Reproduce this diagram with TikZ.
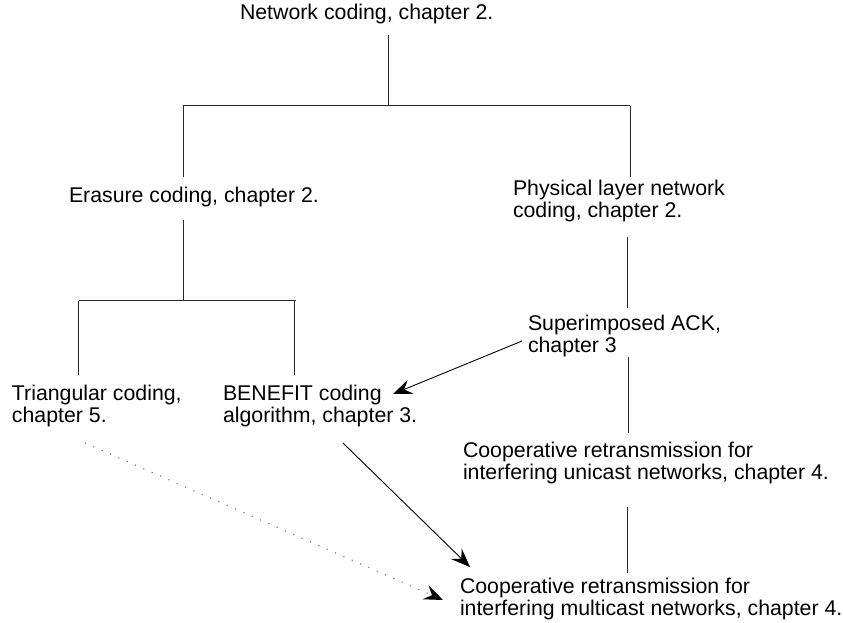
\documentclass[tikz,border=0pt]{standalone}
\usepackage{fontspec}
\setmainfont{Liberation Sans}
\usetikzlibrary{arrows.meta}
\begin{document}
\begin{tikzpicture}[x=1pt,y=-1pt,
  label/.style={anchor=base west,inner sep=0pt,outer sep=0pt,
    font=\fontsize{21.3}{22.5}\selectfont},
  tree/.style={line width=1pt,black!85},
  link/.style={line width=0.9pt,black,-{Stealth[length=19pt,width=15pt,inset=7pt]}},
  hint/.style={line width=1.1pt,black!55,dash pattern=on 1.1pt off 8pt,
    -{Stealth[length=19pt,width=15pt,inset=7pt,black]}}]
\useasboundingbox (0,0) rectangle (843,622);

% topics
\node[label] (nc)  at (240,19)  {Network coding, chapter 2.};
\node[label] (era) at (69,202)  {Erasure coding, chapter 2.};
\node[label] (phy) at (513,195) {\begin{tabular}[t]{@{}l@{}}Physical layer network\\coding, chapter 2.\end{tabular}};
\node[label] (tri) at (12,400)  {\begin{tabular}[t]{@{}l@{}}Triangular coding,\\chapter 5.\end{tabular}};
\node[label] (ben) at (223,400) {\begin{tabular}[t]{@{}l@{}}BENEFIT coding\\algorithm, chapter 3.\end{tabular}};
\node[label] (sup) at (528,330) {\begin{tabular}[t]{@{}l@{}}Superimposed ACK,\\chapter 3\end{tabular}};
\node[label] (uni) at (463,457) {\begin{tabular}[t]{@{}l@{}}Cooperative retransmission for\\interfering unicast networks, chapter 4.\end{tabular}};
\node[label] (mul) at (460,593) {\begin{tabular}[t]{@{}l@{}}Cooperative retransmission for\\interfering multicast networks, chapter 4.\end{tabular}};

% tree joints
\coordinate (nc-s)   at (388,35);
\coordinate (j1)     at (388,105.5);
\coordinate (j1-l)   at (183,105.5);
\coordinate (j1-r)   at (630,105.5);
\coordinate (era-n)  at (183,177);
\coordinate (phy-n)  at (630,177);
\coordinate (era-s)  at (183,220);
\coordinate (j2)     at (183,300.5);
\coordinate (j2-l)   at (78.5,300.5);
\coordinate (j2-r)   at (296,300.5);
\coordinate (tri-n)  at (78.5,375);
\coordinate (ben-n)  at (294,375);
\coordinate (phy-s)  at (627.5,237);
\coordinate (sup-n)  at (627.5,308);
\coordinate (sup-s)  at (628,357);
\coordinate (uni-n)  at (628,433);
\coordinate (uni-s)  at (627,507);
\coordinate (mul-n)  at (627,573);

% tree
\draw[tree] (nc-s) -- (j1);
\draw[tree] (j1-l) -- (j1-r);
\draw[tree] (j1-l) -- (era-n);
\draw[tree] (j1-r) -- (phy-n);
\draw[tree] (era-s) -- (j2);
\draw[tree] (j2-l) -- (j2-r);
\draw[tree] (j2-l) -- (tri-n);
\draw[tree] (ben-n |- j2) -- (ben-n);
\draw[tree] (phy-s) -- (sup-n);
\draw[tree] (sup-s) -- (uni-n);
\draw[tree] (uni-s) -- (mul-n);

% cross links
\coordinate (sup-w) at (522,341);
\coordinate (ben-e) at (393,394);
\coordinate (ben-s) at (343,443);
\coordinate (mul-nw) at (470,567);
\coordinate (tri-s) at (85,443);
\coordinate (mul-w) at (443,600);
\draw[link] (sup-w) -- (ben-e);
\draw[link] (ben-s) -- (mul-nw);
\draw[hint] (tri-s) -- (mul-w);
\end{tikzpicture}
\end{document}
